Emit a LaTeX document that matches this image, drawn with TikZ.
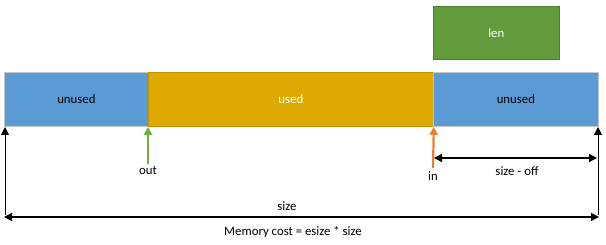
\documentclass[tikz,border=0pt]{standalone}
\usepackage{fontspec}
\setmainfont{Carlito}
\usetikzlibrary{arrows.meta}
\definecolor{cblue}{HTML}{5B9BD5}
\definecolor{cgold}{HTML}{DEA900}
\definecolor{cgoldline}{HTML}{BF9000}
\definecolor{cgreen}{HTML}{629B3B}
\definecolor{cgreenline}{HTML}{507E30}
\definecolor{carrowgreen}{HTML}{70AD47}
\definecolor{carroworange}{HTML}{ED7D31}
\tikzset{
  txt/.style={font=\fontsize{12.8}{14}\selectfont},
  seg/.style={txt, minimum height=54pt, inner sep=0pt, anchor=north west},
  freeseg/.style={seg, fill=cblue, draw=black!22, line width=0.8pt},
  usedseg/.style={seg, fill=cgold, draw=cgoldline, line width=0.8pt, text=white},
  lenbox/.style={txt, fill=cgreen, draw=cgreenline, line width=0.6pt, minimum width=126pt, minimum height=53pt, inner sep=0pt, anchor=north west, text=white},
  lbl/.style={txt, inner sep=0pt},
  tip/.style={-{Triangle[length=8pt,width=8pt]}},
  dim/.style={{Triangle[length=8pt,width=8pt]}-{Triangle[length=8pt,width=8pt]}},
  ptr/.style={line width=2.2pt, -{Triangle[length=8pt,width=8pt]}}
}
\begin{document}
\begin{tikzpicture}[x=1pt,y=-1pt]
\useasboundingbox (0,0) rectangle (606,245);
% buffer segments
\node[freeseg, minimum width=144pt] (free1) at (4,72) {unused};
\node[usedseg, minimum width=285pt] (used) at (148,72) {used};
\node[freeseg, minimum width=165pt] (free2) at (433,72) {unused};
\node[lenbox] (len) at (433,6) {len};
% pointer arrows
\coordinate (outbase) at (148,164);
\coordinate (inbase) at (433,168);
\draw[ptr, carrowgreen] (outbase) -- (used.south west);
\draw[ptr, carroworange] (inbase) -- (used.south east);
\node[lbl] (outlbl) at (148,171) {out};
\node[lbl] (inlbl) at (433,176) {in};
% extent markers
\coordinate (lbot) at (5,215);
\coordinate (rbot) at (598,215);
\coordinate (ltop) at (5,127);
\coordinate (rtop) at (598,127);
\draw[tip, line width=1pt] (lbot) -- (ltop);
\draw[tip, line width=1pt] (rbot) -- (rtop);
% size - off
\coordinate (offl) at (434,158);
\coordinate (offr) at (597,158);
\draw[dim, line width=1.3pt] (offl) -- (offr);
\node[lbl] (offlbl) at (517,171) {size - off};
% total size
\coordinate (sizel) at (4,217);
\coordinate (sizer) at (599,217);
\draw[dim, line width=1.3pt] (sizel) -- (sizer);
\node[lbl] (sizelbl) at (287,206) {size};
\node[lbl] (costlbl) at (293,232) {Memory cost = esize * size};
\end{tikzpicture}
\end{document}
